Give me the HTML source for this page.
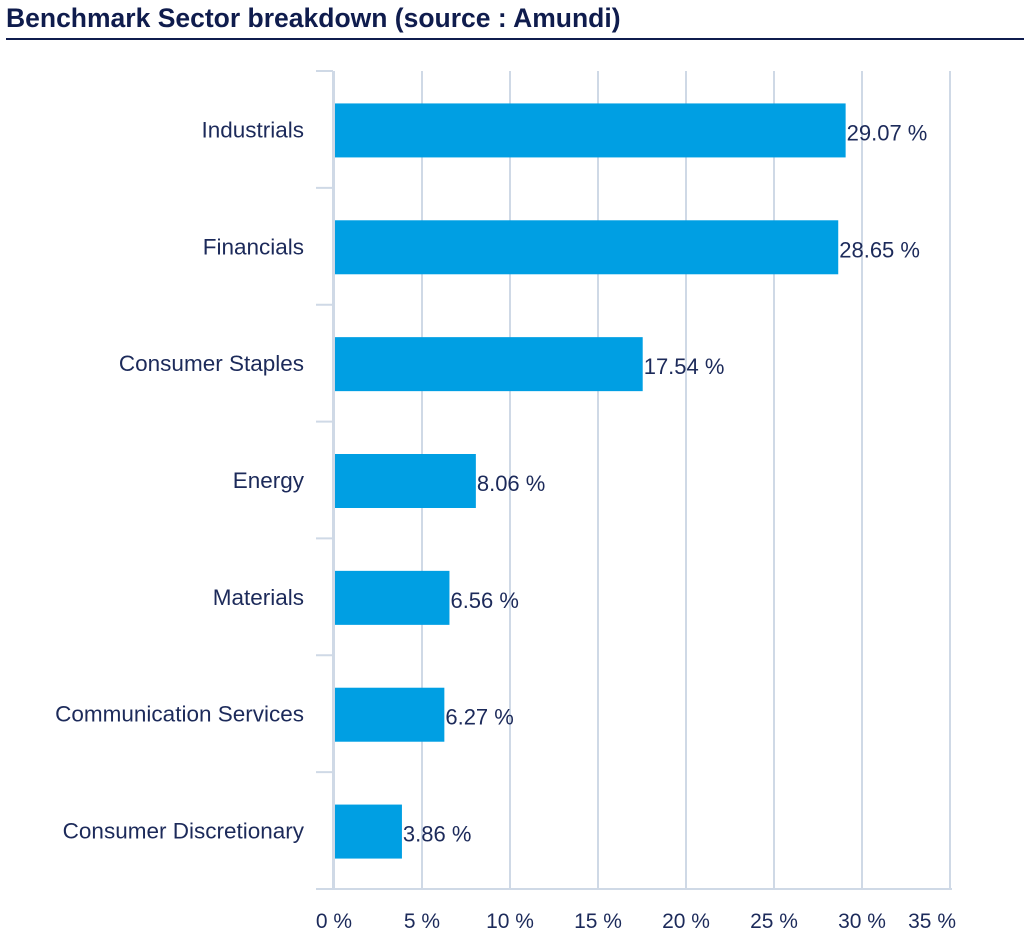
<!DOCTYPE html>
<html><head><meta charset="utf-8"><style>
body{margin:0;background:#fff;width:1024px;height:938px;overflow:hidden;font-family:"Liberation Sans",sans-serif}
#title{position:absolute;left:6px;top:3px;font-size:26.5px;font-weight:bold;color:#0f1c4d;letter-spacing:0}
#rule{position:absolute;left:6px;top:38px;width:1018px;height:2px;background:#0f1c4d}
svg{position:absolute;left:0;top:0}
</style></head><body>
<div id="title">Benchmark Sector breakdown (source : Amundi)</div>
<div id="rule"></div>
<svg id="chart" width="1024" height="938"></svg>
<script>
const categories=["Industrials","Financials","Consumer Staples","Energy","Materials","Communication Services","Consumer Discretionary"];
const values=[29.07,28.65,17.54,8.06,6.56,6.27,3.86];
const valueLabels=["29.07 %","28.65 %","17.54 %","8.06 %","6.56 %","6.27 %","3.86 %"];
const ticks=[0,5,10,15,20,25,30,35];
const tickLabels=["0 %","5 %","10 %","15 %","20 %","25 %","30 %","35 %"];
const svg=document.getElementById('chart');const NS='http://www.w3.org/2000/svg';
const x0=334,pxPer=17.6,top0=71,bottom=889,band=(bottom-top0)/categories.length;
const X=v=>x0+v*pxPer;
function mk(t,a,txt){const e=document.createElementNS(NS,t);for(const k in a)e.setAttribute(k,a[k]);if(txt!==undefined)e.textContent=txt;svg.appendChild(e);return e;}
ticks.forEach((t,i)=>{
 const g=mk('line',{x1:X(t),x2:X(t),y1:top0,y2:bottom,stroke:'#cfd9e6','stroke-width':2});
 
 
 const anchor=i===ticks.length-1?'end':'middle';
 const lx=i===ticks.length-1?X(t)+6:X(t);
 const l=mk('text',{x:lx,y:928,'text-anchor':anchor,'font-size':21,fill:'#1c2a5a'},tickLabels[i]);
 
 
});
const ax=mk('line',{x1:316,x2:X(35)+2,y1:bottom,y2:bottom,stroke:'#cfd9e6','stroke-width':2});


const ay=mk('line',{x1:333,x2:333,y1:top0,y2:bottom,stroke:'#cfd9e6','stroke-width':2});


for(let i=0;i<=categories.length;i++){const y=top0+i*band;
 const t=mk('line',{x1:316,x2:333,y1:y,y2:y,stroke:'#cfd9e6','stroke-width':2});
 
 }
categories.forEach((c,i)=>{
 const cy=top0+band*(i+0.5);
 const b=mk('rect',{x:x0+1,y:cy-26,width:X(values[i])-x0-1,height:54,fill:'#009fe3'});
 
 
 const v=mk('text',{x:X(values[i])+1,y:cy+11,'font-size':22,fill:'#1c2a5a'},valueLabels[i]);
 
 
 const l=mk('text',{x:304,y:cy+8,'text-anchor':'end','font-size':22.5,fill:'#1c2a5a'},c);
 
 
});
</script>
</body></html>
